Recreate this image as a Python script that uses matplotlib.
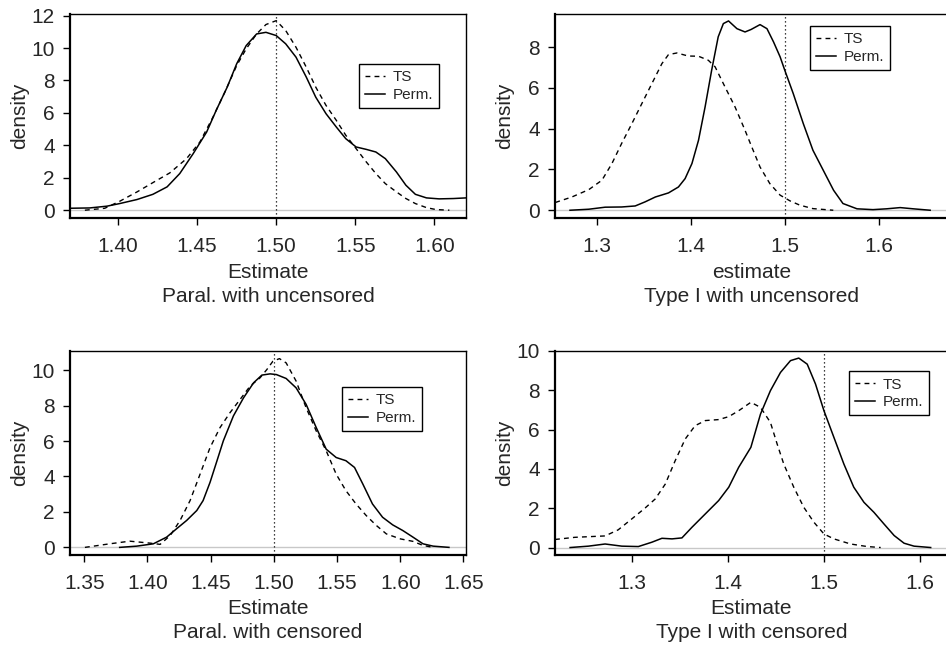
import matplotlib
matplotlib.use('Agg')
import matplotlib.pyplot as plt

plt.rcParams['font.family'] = ['Liberation Sans', 'DejaVu Sans']

# panel 1: Paral. with uncensored
p1_perm_x = [1.369, 1.382, 1.393, 1.401, 1.412, 1.422, 1.431, 1.439, 1.4475, 1.456, 1.462, 1.469,
             1.475, 1.481, 1.4876, 1.4935, 1.500, 1.506, 1.5125, 1.519, 1.525, 1.5315, 1.538, 1.544,
             1.5505, 1.557, 1.563, 1.569, 1.576, 1.582, 1.588, 1.595, 1.603, 1.612, 1.620]
p1_perm_y = [0.12, 0.14, 0.25, 0.41, 0.66, 0.98, 1.44, 2.26, 3.49, 4.82, 6.15, 7.59,
             9.03, 10.15, 10.87, 10.97, 10.77, 10.26, 9.44, 8.21, 6.97, 5.95, 5.13, 4.41,
             3.9, 3.75, 3.59, 3.18, 2.36, 1.54, 0.98, 0.76, 0.70, 0.72, 0.76]
p1_ts_x = [1.379, 1.3916, 1.401, 1.412, 1.422, 1.4327, 1.4433, 1.4517, 1.460, 1.4675, 1.475, 1.481,
           1.4876, 1.4935, 1.500, 1.506, 1.5125, 1.519, 1.525, 1.5315, 1.538, 1.544, 1.5505, 1.557,
           1.563, 1.569, 1.576, 1.582, 1.588, 1.595, 1.601, 1.6095]
p1_ts_y = [0.0, 0.12, 0.55, 1.13, 1.7, 2.3, 3.18, 4.2, 5.74, 7.28, 8.92, 9.95,
           10.87, 11.45, 11.69, 11.08, 10.05, 8.82, 7.59, 6.46, 5.54, 4.62, 3.8, 2.97,
           2.26, 1.64, 1.13, 0.72, 0.41, 0.16, 0.04, 0.0]

# panel 2: Type I with uncensored
p2_perm_x = [1.271, 1.291, 1.3085, 1.326, 1.3405, 1.351, 1.362, 1.376, 1.3866, 1.3937, 1.401, 1.408,
             1.415, 1.422, 1.429, 1.4345, 1.440, 1.449, 1.4576, 1.464, 1.4736, 1.481, 1.488, 1.495,
             1.500, 1.509, 1.5197, 1.530, 1.541, 1.552, 1.562, 1.577, 1.594, 1.6085, 1.623, 1.637,
             1.655]
p2_perm_y = [0.0, 0.05, 0.15, 0.16, 0.21, 0.41, 0.65, 0.85, 1.14, 1.55, 2.29, 3.43,
             5.06, 6.86, 8.5, 9.15, 9.28, 8.9, 8.74, 8.86, 9.1, 8.9, 8.25, 7.52,
             6.86, 5.72, 4.25, 2.94, 1.96, 0.98, 0.33, 0.07, 0.03, 0.07, 0.13, 0.07,
             0.0]
p2_ts_x = [1.2553, 1.273, 1.291, 1.305, 1.3157, 1.326, 1.337, 1.3476, 1.3583, 1.369, 1.376, 1.385,
           1.397, 1.408, 1.4185, 1.4257, 1.4363, 1.447, 1.4576, 1.464, 1.4736, 1.484, 1.495, 1.5055,
           1.516, 1.530, 1.5517]
p2_ts_y = [0.38, 0.65, 1.01, 1.47, 2.29, 3.27, 4.25, 5.23, 6.21, 7.19, 7.63, 7.71,
           7.56, 7.55, 7.35, 7.03, 6.04, 5.06, 3.92, 3.19, 2.12, 1.31, 0.74, 0.46,
           0.25, 0.08, 0.0]

# panel 3: Paral. with censored
p3_perm_x = [1.378, 1.3915, 1.4046, 1.4152, 1.423, 1.431, 1.439, 1.444, 1.4495, 1.455, 1.460, 1.468,
             1.476, 1.484, 1.4905, 1.497, 1.502, 1.5097, 1.5176, 1.5255, 1.5335, 1.5414, 1.5493, 1.557,
             1.5638, 1.5704, 1.578, 1.586, 1.594, 1.602, 1.610, 1.618, 1.626, 1.6385]
p3_perm_y = [0.0, 0.07, 0.2, 0.58, 1.05, 1.52, 2.08, 2.64, 3.67, 4.89, 6.01, 7.42,
             8.44, 9.29, 9.72, 9.79, 9.75, 9.53, 9.0, 8.07, 6.76, 5.54, 5.07, 4.89,
             4.51, 3.57, 2.45, 1.7, 1.27, 0.95, 0.58, 0.2, 0.07, 0.0]
p3_ts_x = [1.3505, 1.370, 1.386, 1.402, 1.410, 1.418, 1.4258, 1.4337, 1.4416, 1.4495, 1.4574, 1.4653,
           1.4733, 1.4812, 1.4891, 1.4944, 1.4992, 1.5044, 1.5097, 1.5176, 1.5255, 1.5335, 1.5414, 1.5493,
           1.557, 1.565, 1.573, 1.581, 1.589, 1.600, 1.610, 1.618, 1.626]
p3_ts_y = [0.0, 0.2, 0.35, 0.24, 0.17, 0.67, 1.52, 2.64, 4.13, 5.63, 6.76, 7.6,
           8.35, 9.1, 9.57, 10.03, 10.5, 10.65, 10.41, 9.38, 7.88, 6.57, 5.45, 4.13,
           3.2, 2.45, 1.8, 1.24, 0.76, 0.48, 0.34, 0.11, 0.0]

# panel 4: Type I with censored
p4_perm_x = [1.236, 1.255, 1.2724, 1.2898, 1.307, 1.321, 1.3315, 1.342, 1.3523, 1.3627, 1.3766, 1.3905,
             1.401, 1.4113, 1.424, 1.434, 1.4443, 1.4548, 1.4652, 1.4738, 1.4826, 1.4912, 1.500, 1.5103,
             1.5207, 1.531, 1.5416, 1.552, 1.5624, 1.573, 1.5833, 1.5937, 1.611]
p4_perm_y = [0.0, 0.07, 0.18, 0.07, 0.05, 0.27, 0.47, 0.44, 0.49, 1.03, 1.71, 2.39,
             3.07, 4.08, 5.1, 6.79, 7.98, 8.91, 9.51, 9.64, 9.33, 8.32, 6.96, 5.61,
             4.25, 3.07, 2.3, 1.79, 1.2, 0.61, 0.22, 0.07, 0.0]
p4_ts_x = [1.2203, 1.241, 1.2724, 1.286, 1.300, 1.314, 1.3245, 1.335, 1.3453, 1.3557, 1.366, 1.3766,
           1.3905, 1.401, 1.4113, 1.424, 1.434, 1.4443, 1.4513, 1.4582, 1.4686, 1.479, 1.4895, 1.500,
           1.5103, 1.5277, 1.545, 1.559]
p4_ts_y = [0.41, 0.52, 0.59, 0.9, 1.45, 2.01, 2.47, 3.23, 4.42, 5.52, 6.2, 6.46,
           6.51, 6.66, 6.96, 7.39, 7.13, 6.37, 5.27, 4.25, 3.07, 2.05, 1.29, 0.69,
           0.44, 0.18, 0.05, 0.0]

titles = ['Paral. with uncensored', 'Type I with uncensored',
          'Paral. with censored', 'Type I with censored']
xlabels = ['Estimate', 'estimate', 'Estimate', 'Estimate']
ticks_p1 = [1.40, 1.45, 1.50, 1.55, 1.60]
ticks_p2 = [1.3, 1.4, 1.5, 1.6]
ticks_p3 = [1.35, 1.40, 1.45, 1.50, 1.55, 1.60, 1.65]
ticks_p4 = [1.3, 1.4, 1.5, 1.6]
yticks_p1 = [0, 2, 4, 6, 8, 10, 12]
yticks_p2 = [0, 2, 4, 6, 8]
yticks_p3 = [0, 2, 4, 6, 8, 10]
yticks_p4 = [0, 2, 4, 6, 8, 10]

FS = 15
TXT = '#262626'
W, H = 946.0, 647.0


def px_axes(left, top, right, bottom):
    return [left / W, 1 - bottom / H, (right - left) / W, (bottom - top) / H]


def draw_panel(fig, rect, ts_x, ts_y, perm_x, perm_y, xlim, ylim, xticks, xfmt, yticks,
               xlabel, title, leg_pos):
    ax = fig.add_axes(rect)
    ax.axhline(0, color='#c8c8c8', lw=1.0, zorder=1)
    ax.axvline(1.5, color='black', lw=0.9, linestyle=(0, (1, 2.2)), zorder=2)
    ax.plot(ts_x, ts_y, color='black', lw=1.0, linestyle=(0, (3.5, 3)), label='TS', zorder=3)
    ax.plot(perm_x, perm_y, color='black', lw=1.1, label='Perm.', zorder=3)
    ax.set_xlim(xlim)
    ax.set_ylim(ylim)
    ax.set_xticks(xticks)
    ax.set_xticklabels([xfmt.format(t) for t in xticks])
    ax.set_yticks(yticks)
    ax.tick_params(axis='both', direction='out', length=5, width=1.0, labelsize=FS,
                   colors='black', labelcolor=TXT)
    ax.tick_params(axis='x', pad=9)
    ax.tick_params(axis='y', pad=6)
    for side in ['left', 'bottom']:
        ax.spines[side].set_linewidth(1.6)
    for side in ['top', 'right']:
        ax.spines[side].set_linewidth(1.0)
    h = rect[3] * H
    ax.text(0.5, -54 / h, xlabel, transform=ax.transAxes, ha='center', va='center',
            fontsize=FS, color=TXT)
    ax.text(0.5, -78 / h, title, transform=ax.transAxes, ha='center', va='center',
            fontsize=FS, color=TXT)
    w = rect[2] * W
    ax.text(-50 / w, 0.5, 'density', transform=ax.transAxes, rotation=90,
            ha='center', va='center', fontsize=FS, color=TXT)
    leg = ax.legend(loc='upper left', bbox_to_anchor=leg_pos, borderaxespad=0,
                    fontsize=11, frameon=True, fancybox=False, framealpha=1,
                    edgecolor='black', handlelength=1.3, handletextpad=0.5,
                    borderpad=0.4, labelspacing=0.25)
    leg.get_frame().set_linewidth(1.0)
    for t in leg.get_texts():
        t.set_color(TXT)
    return ax


fig = plt.figure(figsize=(9.46, 6.47), dpi=100)

draw_panel(fig, px_axes(70, 14, 466, 218), p1_ts_x, p1_ts_y, p1_perm_x, p1_perm_y,
           (1.3696, 1.62), (-0.48, 12.1), ticks_p1, '{:.2f}', yticks_p1,
           xlabels[0], titles[0], (0.73, 0.755))
draw_panel(fig, px_axes(555, 14, 948, 218), p2_ts_x, p2_ts_y, p2_perm_x, p2_perm_y,
           (1.255, 1.674), (-0.38, 9.62), ticks_p2, '{:.1f}', yticks_p2,
           xlabels[1], titles[1], (0.649, 0.941))
draw_panel(fig, px_axes(70, 351, 466, 555), p3_ts_x, p3_ts_y, p3_perm_x, p3_perm_y,
           (1.3387, 1.652), (-0.43, 11.08), ticks_p3, '{:.2f}', yticks_p3,
           xlabels[2], titles[2], (0.687, 0.822))
draw_panel(fig, px_axes(555, 351, 948, 555), p4_ts_x, p4_ts_y, p4_perm_x, p4_perm_y,
           (1.2203, 1.629), (-0.38, 10.0), ticks_p4, '{:.1f}', yticks_p4,
           xlabels[3], titles[3], (0.748, 0.90))

fig.savefig('out.png', dpi=100)
